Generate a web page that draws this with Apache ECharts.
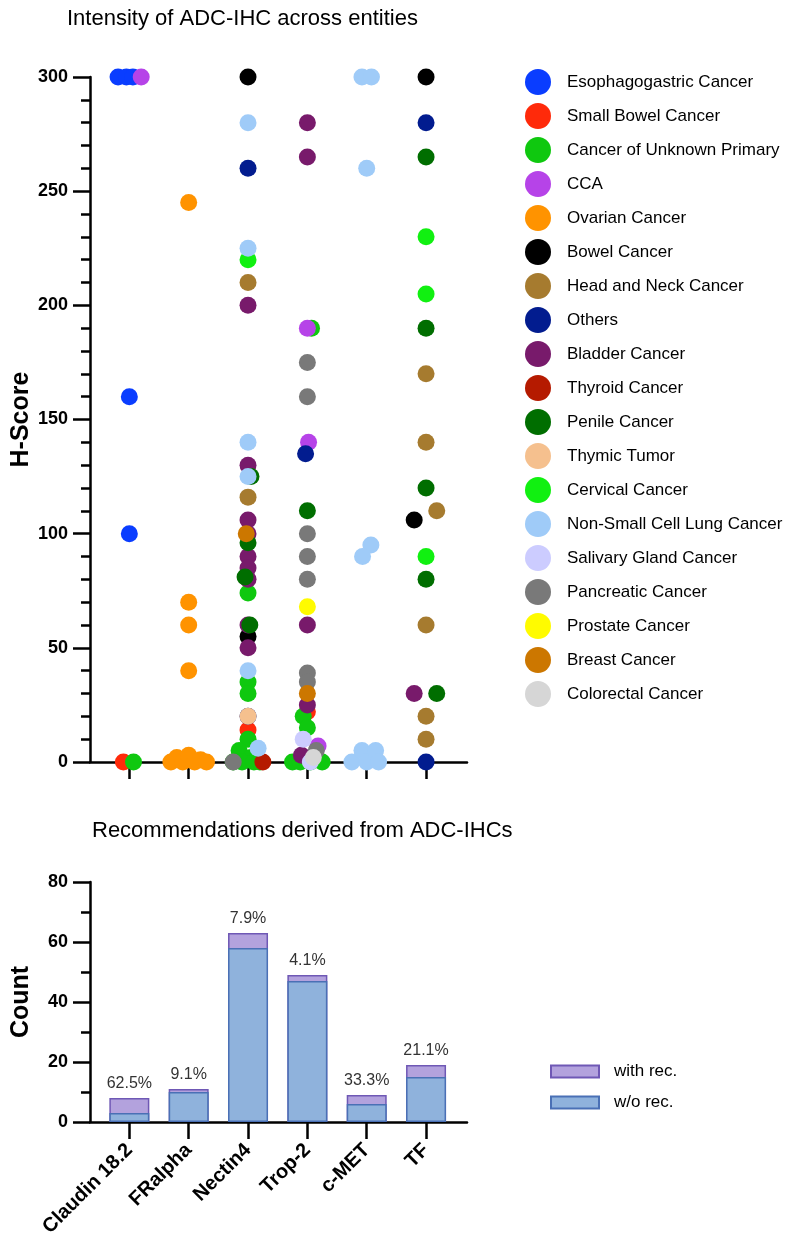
<!DOCTYPE html>
<html>
<head>
<meta charset="utf-8">
<script src="https://cdn.jsdelivr.net/npm/echarts@6/dist/echarts.min.js"></script>
<style>
html, body { margin: 0; padding: 0; background: #fff; }
#main { width: 787px; height: 1256px; }
</style>
</head>
<body>
<div id="main"></div>
<script>
// 数据
var targets = ['Claudin 18.2', 'FRalpha', 'Nectin4', 'Trop-2', 'c-MET', 'TF'];
var targetPos = [1, 2, 3, 4, 5, 6];

var entities = ['Esophagogastric Cancer', 'Small Bowel Cancer', 'Cancer of Unknown Primary', 'CCA',
    'Ovarian Cancer', 'Bowel Cancer', 'Head and Neck Cancer', 'Others', 'Bladder Cancer',
    'Thyroid Cancer', 'Penile Cancer', 'Thymic Tumor', 'Cervical Cancer', 'Non-Small Cell Lung Cancer',
    'Salivary Gland Cancer', 'Pancreatic Cancer', 'Prostate Cancer', 'Breast Cancer', 'Colorectal Cancer'];

var entityColors = ['#0A3DFF', '#FF2A0A', '#0FC80F', '#B643E8', '#FF9300', '#000000', '#A67B2F',
    '#021C8F', '#781A6B', '#B51A00', '#006E00', '#F5C08E', '#11F011', '#9FCBF8',
    '#CCCCFF', '#797979', '#FFFB00', '#CC7700', '#D6D6D6'];

// [target position (with jitter), H-Score]
var esophagogastric = [[0.81, 300], [0.95, 300], [1.06, 300], [1, 160], [1, 100]];
var smallBowel = [[0.9, 0], [3, 14], [4, 22]];
var unknownPrimary = [[1.07, 0], [3, 74], [3, 35], [3, 30], [3, 10], [2.85, 5], [3.05, 2], [2.75, 0],
    [2.9, 0], [3.1, 0], [3.2, 0], [4.07, 190], [3.93, 20], [4, 15], [3.75, 0], [3.88, 0], [4.25, 0], [4.05, 0]];
var cca = [[1.2, 300], [4, 190], [4.02, 140], [4.18, 7]];
var ovarian = [[2, 245], [2, 70], [2, 60], [2, 40], [1.7, 0], [1.8, 2], [1.9, 0], [2, 3], [2.1, 0], [2.2, 1], [2.3, 0]];
var bowel = [[3, 300], [3, 55], [5.8, 106], [6, 300]];
var headNeck = [[3, 210], [3, 116], [6, 170], [6, 140], [6.18, 110], [6, 60], [6, 20], [6, 10]];
var others = [[3, 260], [3, 20], [3.97, 135], [6, 280], [6, 0]];
var bladder = [[3, 200], [3, 130], [3, 106], [3, 100], [3, 90], [3, 85], [3, 80], [3, 60], [3, 50],
    [4, 280], [4, 265], [4, 60], [4, 25], [3.9, 3], [5.8, 30]];
var thyroid = [[3.25, 0]];
var penile = [[3.05, 125], [3, 96], [2.95, 81], [3.03, 60], [4, 110], [6, 265], [6, 190], [6, 120], [6, 80], [6.18, 30]];
var thymic = [[3, 20]];
var cervical = [[3, 220], [6, 230], [6, 205], [6, 90]];
var nsclc = [[3, 280], [3, 225], [3, 140], [3, 125], [3, 40], [3.17, 6], [4.92, 300], [5.08, 300], [5, 260],
    [5.07, 95], [4.93, 90], [4.75, 0], [4.92, 5], [5, 0], [5.15, 5], [5.2, 0]];
var salivary = [[3.93, 10], [4.05, 0]];
var pancreatic = [[2.75, 0], [4, 175], [4, 160], [4, 100], [4, 90], [4, 80], [4, 39], [4, 35], [4.15, 5]];
var prostate = [[4, 68]];
var breast = [[2.97, 100], [4, 30]];
var colorectal = [[4.1, 2]];

var entityPoints = [esophagogastric, smallBowel, unknownPrimary, cca, ovarian, bowel, headNeck, others,
    bladder, thyroid, penile, thymic, cervical, nsclc, salivary, pancreatic, prostate, breast, colorectal];

var withoutRec = [3, 10, 58, 47, 6, 15];
var withRec = [5, 1, 5, 2, 3, 4];

var chart = echarts.init(document.getElementById('main'));
var font = "'Liberation Sans', Arial, Helvetica, sans-serif";
var axisColor = '#000';

function catAxis(gridIndex, showLabel) {
    return {
        type: 'value',
        gridIndex: gridIndex,
        min: 0.337,
        max: 6.69,
        splitLine: { show: false },
        axisLine: { show: true, onZero: false, lineStyle: { color: axisColor, width: 2.5 } },
        axisTick: { show: true, customValues: targetPos, length: 17, lineStyle: { color: axisColor, width: 2.5 } },
        axisLabel: {
            show: showLabel,
            customValues: targetPos,
            rotate: 45,
            margin: 25,
            fontFamily: font,
            fontSize: 20,
            fontWeight: 'bold',
            color: '#000',
            formatter: function (v) { return targets[Math.round(v) - 1] || ''; }
        }
    };
}

function numAxis(gridIndex, name, max, interval, minorSplit) {
    return {
        type: 'value',
        gridIndex: gridIndex,
        min: 0,
        max: max,
        interval: interval,
        name: name,
        nameLocation: 'middle',
        nameGap: 56,
        nameTextStyle: { fontFamily: font, fontSize: 25, fontWeight: 'bold', color: '#000' },
        splitLine: { show: false },
        axisLine: { show: true, lineStyle: { color: axisColor, width: 2.5 } },
        axisTick: { show: true, length: 17, lineStyle: { color: axisColor, width: 2.5 } },
        minorTick: { show: true, splitNumber: minorSplit, length: 9, lineStyle: { color: axisColor, width: 2.5 } },
        axisLabel: { margin: 22, fontFamily: font, fontSize: 18, fontWeight: 'bold', color: '#000' }
    };
}

var series = entities.map(function (name, i) {
    return {
        name: name,
        type: 'scatter',
        xAxisIndex: 0,
        yAxisIndex: 0,
        symbol: 'circle',
        symbolSize: 17,
        clip: false,
        itemStyle: { color: entityColors[i], opacity: 1 },
        data: entityPoints[i]
    };
});

// "with rec." sits on top of "w/o rec.": drawn as the full column, the lower part overlaid
series.push({
    name: 'with rec.',
    type: 'bar',
    xAxisIndex: 1,
    yAxisIndex: 1,
    barWidth: 40,
    barGap: '-100%',
    itemStyle: { color: '#B3A2DD', borderColor: '#6F58B5', borderWidth: 1.5 },
    label: {
        show: true,
        position: 'top',
        distance: 6,
        fontFamily: font,
        fontSize: 16,
        color: '#333',
        formatter: function (p) {
            var i = p.dataIndex;
            return (withRec[i] / (withRec[i] + withoutRec[i]) * 100).toFixed(1) + '%';
        }
    },
    data: targetPos.map(function (p, i) { return [p, withRec[i] + withoutRec[i]]; })
});
series.push({
    name: 'w/o rec.',
    type: 'bar',
    xAxisIndex: 1,
    yAxisIndex: 1,
    barWidth: 40,
    barGap: '-100%',
    z: 3,
    itemStyle: { color: '#8FB2DC', borderColor: '#4A70B5', borderWidth: 1.5 },
    data: targetPos.map(function (p, i) { return [p, withoutRec[i]]; })
});

var option = {
    backgroundColor: '#fff',
    animation: false,
    title: [{
        text: 'Intensity of ADC-IHC across entities',
        left: 62,
        top: 3,
        textStyle: { fontFamily: font, fontSize: 22, fontWeight: 'normal', color: '#000' }
    }, {
        text: 'Recommendations derived from ADC-IHCs',
        left: 87,
        top: 815,
        textStyle: { fontFamily: font, fontSize: 22, fontWeight: 'normal', color: '#000' }
    }],
    legend: [{
        orient: 'vertical',
        left: 520,
        top: 64,
        itemWidth: 26,
        itemHeight: 26,
        itemGap: 8,
        icon: 'circle',
        data: entities,
        selectedMode: false,
        textStyle: { fontFamily: font, fontSize: 17, color: '#000', padding: [0, 0, 0, 11] }
    }, {
        orient: 'vertical',
        left: 545,
        top: 1058,
        itemWidth: 48,
        itemHeight: 12,
        itemGap: 14,
        icon: 'rect',
        data: ['with rec.', 'w/o rec.'],
        selectedMode: false,
        textStyle: { fontFamily: font, fontSize: 17, color: '#000', padding: [0, 0, 0, 10] }
    }],
    grid: [
        { left: 90, top: 77, width: 377, height: 685 },
        { left: 90, top: 882, width: 377, height: 240 }
    ],
    xAxis: [catAxis(0, false), catAxis(1, true)],
    yAxis: [numAxis(0, 'H-Score', 300, 50, 5), numAxis(1, 'Count', 80, 20, 2)],
    series: series
};

chart.setOption(option);
</script>
</body>
</html>
